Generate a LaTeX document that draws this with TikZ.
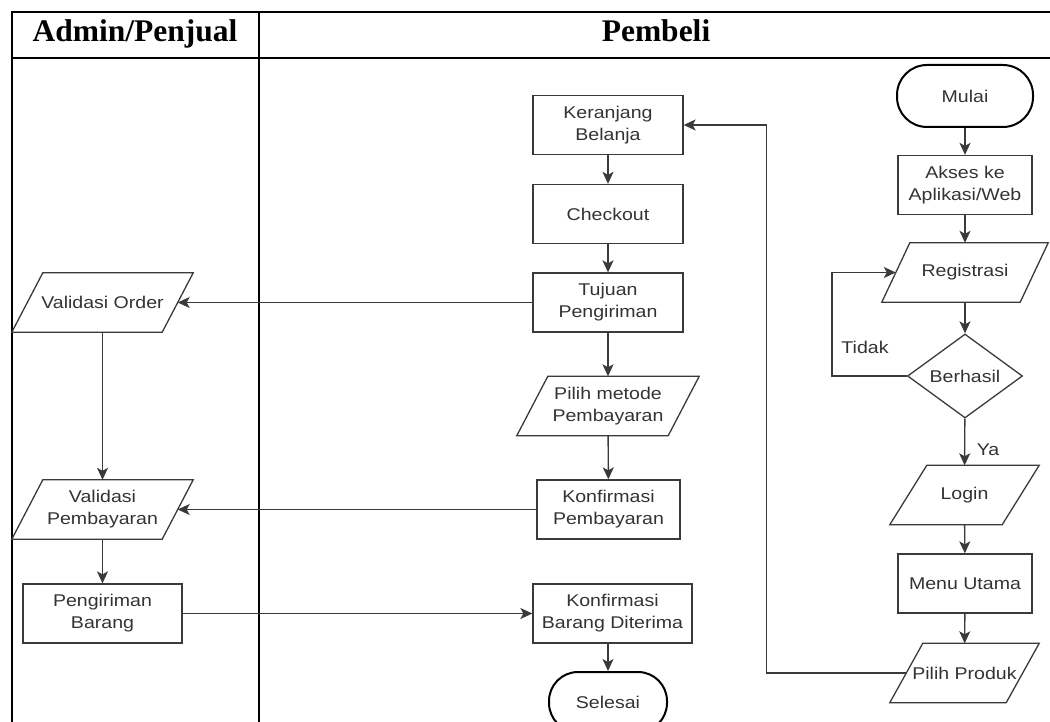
\documentclass[tikz,border=0pt]{standalone}
\usepackage{fontspec}
\setmainfont{Liberation Serif}
\newfontfamily\flowfont[FakeStretch=1.15]{Liberation Sans}
\usetikzlibrary{arrows.meta,positioning,shapes.geometric}
\definecolor{edge}{HTML}{3a3a3a}
\definecolor{ink}{HTML}{333333}

\begin{document}
\begin{tikzpicture}[
    x=1pt, y=-1pt,
    font=\flowfont\fontsize{17}{22}\selectfont,
    proc/.style={
        draw=edge, line width=1.3pt, rectangle,
        minimum height=59pt, minimum width=150pt,
        align=center, text=ink, inner sep=2pt
    },
    % parallelogram: the node box runs through the middle of the slanted sides
    io/.style={
        rectangle, minimum height=59pt, minimum width=150pt,
        align=center, text=ink, inner sep=1pt,
        append after command={\pgfextra{\let\ionode\tikzlastnode
            \draw[draw=edge, line width=1.3pt]
                ([xshift=-#1]\ionode.south west) -- ([xshift=#1]\ionode.north west)
                -- ([xshift=#1]\ionode.north east) -- ([xshift=-#1]\ionode.south east)
                -- cycle;}}
    },
    io/.default=15.5pt,
    term/.style={
        draw=black, line width=2pt, rectangle, rounded corners=29pt,
        minimum height=60pt, align=center, text=ink
    },
    decide/.style={
        draw=edge, line width=1.3pt, diamond,
        minimum width=115pt, minimum height=84pt,
        inner sep=0pt, align=center, text=ink
    },
    arrow/.style={
        -{Stealth[length=12pt,width=11pt,inset=3pt]}, draw=edge, line width=1.4pt
    },
    lane/.style={
        draw=black, line width=2.3pt
    },
    title/.style={
        font=\rmfamily\bfseries\fontsize{31.5}{36}\selectfont, anchor=base
    },
    flowlabel/.style={
        text=ink, inner sep=1pt
    }
]
\useasboundingbox (0,0) rectangle (1050,722);

% --- swimlane table ---
\draw[lane] (12,722) -- (12,12) -- (1052,12);
\draw[lane] (12,58) -- (1052,58);
\draw[lane] (259,12) -- (259,722);
\node[title] (hadmin) at (135,42) {Admin/Penjual};
\node[title] (hbuyer) at (656,42) {Pembeli};

% --- buyer: login part ---
\node[term, minimum width=136pt, minimum height=62pt, rounded corners=30pt] (mulai) at (965,96) {Mulai};
\node[proc, minimum width=134pt] (akses) at (965,185) {Akses ke\\Aplikasi/Web};
\node[io=14pt, minimum width=138pt] (regis) at (965,272.5) {Registrasi};
\node[decide] (hasil) at (965,376) {Berhasil};
\node[io=18.5pt, minimum width=112pt] (login) at (964.5,495) {Login};
\node[proc, minimum width=134pt] (menu) at (965,583.5) {Menu Utama};
\node[io=16.5pt, minimum width=116pt] (produk) at (964.5,673) {Pilih Produk};

% --- buyer: order part ---
\node[proc] (kerja) at (608,125) {Keranjang\\Belanja};
\node[proc] (check) at (608,214) {Checkout};
\node[proc] (tujuan) at (608,302.5) {Tujuan\\Pengiriman};
\node[io, minimum width=151pt] (metode) at (608,406) {Pilih metode\\Pembayaran};
\node[proc, minimum width=143pt] (kbayar) at (608.5,509.5) {Konfirmasi\\Pembayaran};
\node[proc, minimum width=159pt] (kbarang) at (612.5,613.5) {Konfirmasi\\Barang Diterima};
\node[term, minimum width=118pt] (selesai) at (608,702) {Selesai};

% --- admin lane ---
\node[io] (vorder) at (102.5,302.5) {Validasi Order};
\node[io] (vbayar) at (102.5,509.5) {Validasi\\Pembayaran};
\node[proc, minimum width=159pt] (kirim) at (102.5,613.5) {Pengiriman\\Barang};

% --- login flow ---
\draw[arrow] (mulai) -- (akses);
\draw[arrow] (akses) -- (regis);
\draw[arrow] (regis) -- (hasil);
\draw[arrow] (hasil) -- (login);
\node[flowlabel] (ya) at (988,450) {Ya};
\draw[arrow] (login) -- (menu);
\draw[arrow] (menu) -- (produk);
\draw[arrow] (hasil.west) -- ++(-75,0) |- (regis.west);
\node[flowlabel] (tidak) at (865,347) {Tidak};

% back to the cart
\draw[arrow] (produk.west) -| ([xshift=83pt]kerja.east) -- (kerja.east);

% --- order flow ---
\draw[arrow] (kerja) -- (check);
\draw[arrow] (check) -- (tujuan);
\draw[arrow] (tujuan) -- (metode);
\draw[arrow] (metode) -- (kbayar);
\draw[arrow] (selesai.north |- kbarang.south) -- (selesai);

% --- across the lanes ---
\draw[arrow] (tujuan.west) -- (vorder.east);
\draw[arrow] (vorder) -- (vbayar);
\draw[arrow] (kbayar.west) -- (vbayar.east);
\draw[arrow] (vbayar) -- (kirim);
\draw[arrow] (kirim.east) -- (kbarang.west);

\end{tikzpicture}
\end{document}
